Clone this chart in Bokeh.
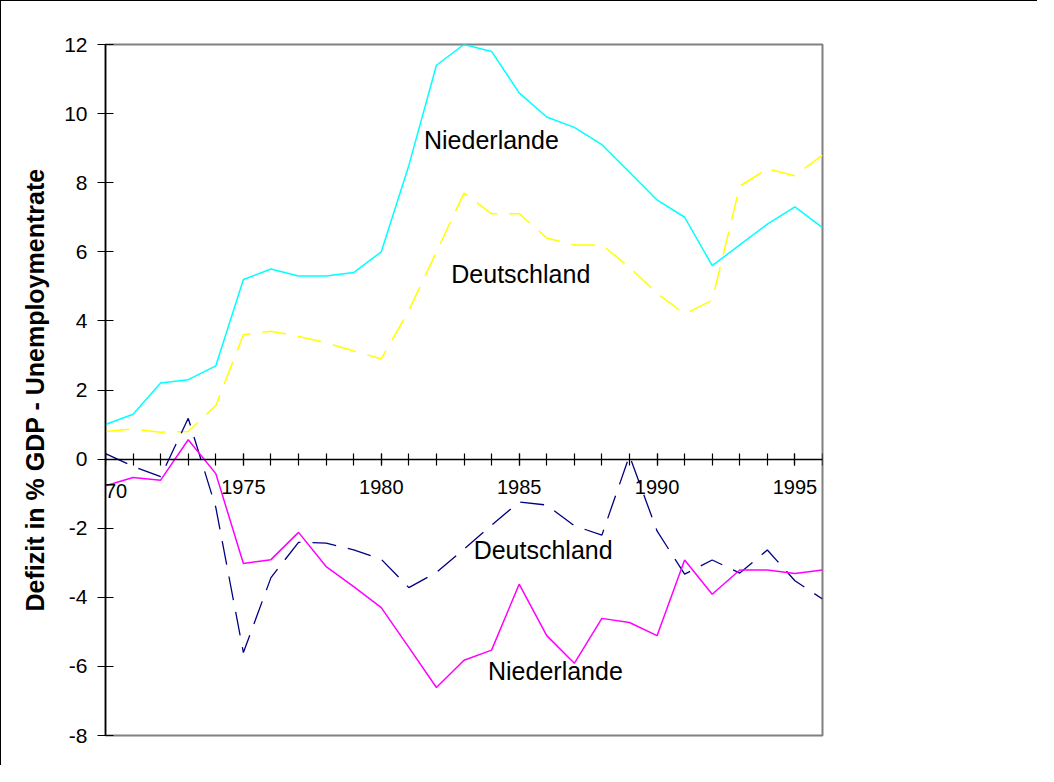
from bokeh.plotting import figure
from bokeh.models import Range1d, FixedTicker, Label
from bokeh.core.properties import value
from bokeh.embed import file_html
from bokeh.resources import INLINE

try:
    from bokeh.models import HTMLLabel
except ImportError:
    HTMLLabel = None

years = list(range(1970, 1997))

nl_unemp = [1.0, 1.3, 2.2, 2.3, 2.7, 5.2, 5.5, 5.3, 5.3, 5.4, 6.0, 8.5, 11.4, 12.0, 11.8,
            10.6, 9.9, 9.6, 9.1, 8.3, 7.5, 7.0, 5.6, 6.2, 6.8, 7.3, 6.7]
de_unemp = [0.8, 0.87, 0.78, 0.8, 1.55, 3.6, 3.7, 3.55, 3.37, 3.13, 2.9, 4.3, 6.0, 7.7, 7.1,
            7.1, 6.4, 6.2, 6.2, 5.55, 4.8, 4.2, 4.6, 7.9, 8.4, 8.2, 8.8]
nl_deficit = [-0.77, -0.53, -0.61, 0.56, -0.42, -3.02, -2.91, -2.12, -3.11, -3.69, -4.3, -5.45,
              -6.61, -5.82, -5.53, -3.62, -5.11, -5.91, -4.61, -4.73, -5.11, -2.92, -3.91,
              -3.21, -3.21, -3.31, -3.21]
de_deficit = [0.16, -0.21, -0.51, 1.18, -1.4, -5.6, -3.43, -2.41, -2.43, -2.63, -2.9, -3.72,
              -3.28, -2.61, -1.91, -1.24, -1.33, -1.93, -2.2, 0.1, -2.08, -3.33, -2.92,
              -3.3, -2.63, -3.52, -4.05]

label_text = ["Niederlande", "Deutschland", "Deutschland", "Niederlande"]
label_x = [1981.55, 1982.54, 1983.35, 1983.87]
label_y = [9.25, 5.35, -2.63, -6.13]

y_ticks = [-8, -6, -4, -2, 0, 2, 4, 6, 8, 10, 12]
x_major = [1970, 1975, 1980, 1985, 1990, 1995]

FONT = "Liberation Sans"

p = figure(width=1037, height=765, output_backend="svg", toolbar_location=None,
           x_range=Range1d(1970, 1996), y_range=Range1d(-8, 12),
           min_border_left=104, min_border_top=43, min_border_right=216,
           min_border_bottom=31)
p.styles = {"border-left": "1px solid black", "border-top": "1px solid black"}
p.xgrid.visible = False
p.ygrid.visible = False
p.outline_line_color = "#808080"
p.outline_line_width = 2
p.background_fill_color = "white"
p.border_fill_color = "white"

# x axis at y = 0
xa = p.xaxis[0]
xa.fixed_location = 0
xa.ticker = FixedTicker(ticks=x_major, minor_ticks=years)
xa.axis_line_color = "black"
xa.axis_line_width = 1.5
xa.major_tick_in = 6
xa.major_tick_out = 6
xa.minor_tick_in = 6
xa.minor_tick_out = 6
xa.major_tick_line_color = "black"
xa.minor_tick_line_color = "black"
xa.major_tick_line_width = 1.2
xa.minor_tick_line_width = 1.2
xa.major_label_text_font = FONT
xa.major_label_text_font_size = "20px"
xa.major_label_text_color = "black"
xa.major_label_standoff = 15

if HTMLLabel is not None:
    # first year label sits over the y axis line (an HTML label is not clipped to the frame)
    xa.major_label_overrides = {x_major[0]: ""}
    p.add_layout(HTMLLabel(x=x_major[0], y=0, text=str(x_major[0]), text_font=FONT,
                           text_font_size="20px", text_color="black", text_align="center",
                           text_baseline="top", y_offset=-21))

ya = p.yaxis[0]
ya.ticker = FixedTicker(ticks=y_ticks)
ya.axis_line_color = "black"
ya.axis_line_width = 1.5
ya.major_tick_in = 8
ya.major_tick_out = 8
ya.minor_tick_line_color = None
ya.major_tick_line_color = "black"
ya.major_tick_line_width = 1.2
ya.major_label_text_font = FONT
ya.major_label_text_font_size = "21px"
ya.major_label_text_color = "black"
ya.major_label_standoff = 10
ya.major_label_overrides = {t: str(t) for t in y_ticks}
ya.axis_label = "Defizit in % GDP - Unemploymentrate"
ya.axis_label_text_font = FONT
ya.axis_label_text_font_size = "25px"
ya.axis_label_text_font_style = "bold"
ya.axis_label_text_color = "black"
ya.axis_label_standoff = 12

p.line(years, nl_unemp, line_color="#00FFFF", line_width=1.5)
p.line(years, de_unemp, line_color="#FFFF00", line_width=1.5, line_dash="24 12")
p.line(years, de_deficit, line_color="#000080", line_width=1.3, line_dash="24 12")
p.line(years, nl_deficit, line_color="#FF00FF", line_width=1.5)

p.text(x=label_x, y=label_y, text=label_text, text_font=value(FONT),
       text_font_size="25px", text_color="black", text_align="left",
       text_baseline="middle")

open("out.html", "w").write(file_html(p, INLINE))
